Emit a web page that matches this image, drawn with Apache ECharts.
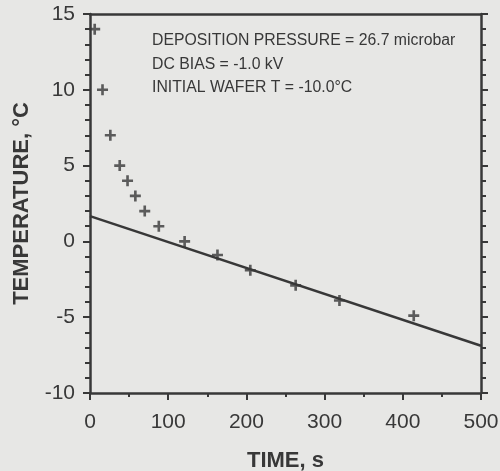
<!DOCTYPE html>
<html><head><meta charset="utf-8">
<script src="https://cdn.jsdelivr.net/npm/echarts@6/dist/echarts.min.js"></script>
<style>html,body{margin:0;padding:0;background:#e7e7e5;}#c{width:500px;height:471px;}</style>
</head><body><div id="c"></div>
<script>
const timeS = [6, 16, 26, 38, 48, 58, 70, 88, 121, 163, 205, 263, 319, 414];
const tempC = [14, 10, 7, 5, 4, 3, 2, 1, 0, -0.9, -1.9, -2.9, -3.9, -4.9];
const fitX = [0, 500];
const fitY = [1.67, -6.88];
const xTicks = [0, 100, 200, 300, 400, 500];
const yTicks = [-10, -5, 0, 5, 10, 15];
const notes = ["DEPOSITION PRESSURE = 26.7 microbar", "DC BIAS = -1.0 kV", "INITIAL WAFER T = -10.0\u00b0C"];
const xTitle = "TIME, s";
const yTitle = "TEMPERATURE, \u00b0C";

const ink = '#383838';
const font = 'Liberation Sans, Arial, sans-serif';
const chart = echarts.init(document.getElementById('c'));
const plus = 'path://M3.8,0 L6.2,0 L6.2,3.8 L10,3.8 L10,6.2 L6.2,6.2 L6.2,10 L3.8,10 L3.8,6.2 L0,6.2 L0,3.8 L3.8,3.8 Z';
const axLine = {show: true, onZero: false, lineStyle: {color: ink, width: 2.5}};
chart.setOption({
  backgroundColor: '#e7e7e5',
  animation: false,
  grid: {left: 90, right: 19, top: 14, bottom: 78, containLabel: false, outerBoundsMode: 'none'},
  xAxis: [{
    type: 'value', min: xTicks[0], max: xTicks[xTicks.length-1], interval: 100,
    axisLine: axLine,
    axisTick: {show: true, inside: false, length: 7, lineStyle: {color: ink, width: 2}},
    minorTick: {show: true, splitNumber: 2, length: 4, lineStyle: {color: ink, width: 2}},
    splitLine: {show: false},
    axisLabel: {color: ink, fontSize: 21, fontFamily: font, margin: 19},
    name: xTitle, nameLocation: 'middle', nameGap: 57,
    nameTextStyle: {color: ink, fontSize: 22, fontWeight: 'bold', fontFamily: font}
  }, {
    type: 'value', position: 'top', min: 0, max: 500,
    axisLine: axLine, axisTick: {show: false}, axisLabel: {show: false}, splitLine: {show: false}
  }],
  yAxis: [{
    type: 'value', min: yTicks[0], max: yTicks[yTicks.length-1], interval: 5,
    axisLine: axLine,
    axisTick: {show: true, inside: false, length: 7, lineStyle: {color: ink, width: 2}},
    minorTick: {show: true, splitNumber: 5, length: 5, lineStyle: {color: ink, width: 2}},
    splitLine: {show: false},
    axisLabel: {color: ink, fontSize: 21, fontFamily: font, margin: 15},
    name: yTitle, nameLocation: 'middle', nameGap: 57,
    nameTextStyle: {color: ink, fontSize: 22, fontWeight: 'bold', fontFamily: font}
  }, {
    type: 'value', position: 'right', min: -10, max: 15, interval: 5,
    axisLine: axLine,
    axisTick: {show: true, inside: false, length: 7, lineStyle: {color: ink, width: 2}},
    minorTick: {show: true, splitNumber: 5, length: 5, lineStyle: {color: ink, width: 2}},
    axisLabel: {show: false}, splitLine: {show: false}
  }],
  graphic: notes.map((t, i) => ({
    type: 'text', left: 152, top: 33 + i * 23.5,
    style: {text: t, fill: ink, fontSize: 15.8, fontFamily: font}
  })),
  series: [{
    type: 'scatter', data: timeS.map((x, i) => [x, tempC[i]]),
    symbol: plus, symbolSize: 11, itemStyle: {color: ink}
  }, {
    type: 'line', data: fitX.map((x, i) => [x, fitY[i]]),
    symbol: 'none', lineStyle: {color: ink, width: 2.5}
  }]
});
</script></body></html>
